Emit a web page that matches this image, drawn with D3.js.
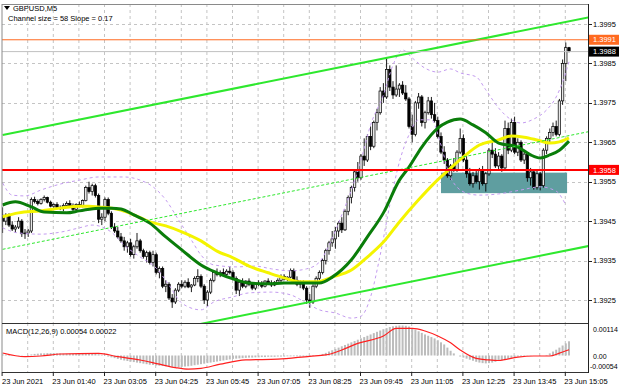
<!DOCTYPE html>
<html>
<head>
<meta charset="utf-8">
<script src="https://cdn.jsdelivr.net/npm/d3@7"></script>
<style>
  body { margin: 0; background: #fff; }
  svg { display: block; font-family: "Liberation Sans", Arial, sans-serif; }
</style>
</head>
<body>
<svg id="chart" width="620" height="388"></svg>
<script>
// candle values are in pips above 1.39000, one row per 5-minute bar: [open, high, low, close]
const BASE = 1.39;
const candles = [
  [46.5,48.5,42,45],[45,47,44,46.5],[46.5,47,43.5,44],[44,45,42.5,43],[43,44,42,43.5],
  [43.5,46,43,45],[45,45.5,41,41.8],[41.8,43,40.5,42],[42,43,41,42.5],[42.5,51,42,50.5],
  [50.5,51.2,49.5,50],[50,50.5,49,49.5],[49.5,50.8,49.2,50.5],[50.5,51.5,50,51],[51,51.2,49.5,49.8],
  [49.8,50.2,48.5,48.8],[48.8,49.5,48,49.2],[49.2,49.8,48.3,48.5],[48.5,49,47.8,48.3],[48.3,49.5,47.5,49],
  [49,50,48.5,49.5],[49.5,50.3,48.8,49],[49,49.5,47.5,48],[48,49.5,47.8,49.2],[49.2,50,48.5,48.8],
  [48.8,50.5,48.5,50.2],[50.2,54,50,53.5],[53.5,55,52,52.5],[52.5,54.5,51.5,54],[54,54.5,51,51.5],
  [51.5,52,44.5,45.5],[45.5,47,44,46],[46,51,45,50.5],[50.5,51,46.5,47],[47,47.5,43,43.5],
  [43.5,44.5,42,42.5],[42.5,43.5,40.5,41],[41,42,39.5,40],[40,41,37.5,38.5],[38.5,40,37,39.5],
  [39.5,40.5,36,36.5],[36.5,39,35.5,38.5],[38.5,42,38,40],[40,40.5,37,37.5],[37.5,38,35.5,36],
  [36,37.5,34.5,37],[37,37.5,34,34.5],[34.5,37.5,33.5,36.5],[36.5,37,31.5,32],[32,33.5,30.5,33],
  [33,33.5,28,28.5],[28.5,30,27,29],[29,29.5,25,25.5],[25.5,26.5,23,24.5],[24.5,28,24,27.5],
  [27.5,29.5,27,29],[29,30,28,28.5],[28.5,30,28,29.5],[29.5,30.5,28,28.3],[28.3,29,27,28.8],
  [28.8,31,28.5,30.5],[30.5,32.8,29.5,31],[31,31.5,28,28.5],[28.5,29,24,25],[25,27.5,23.5,27],
  [27,30.5,26.5,30],[30,32.5,29.5,32],[32,33,31,31.5],[31.5,32.5,30.8,32],[32,33,31,31.5],
  [31.5,32.8,31,32.3],[32.3,33.5,31.5,32],[32,32.5,30,30.5],[30.5,31,26.5,27.5],[27.5,30,26,29.5],
  [29.5,30.5,28,28.5],[28.5,30,28,29.8],[29.8,30.5,28.5,29],[29,29.5,27.5,28],[28,29.5,27.5,29.2],
  [29.2,30,28.5,29],[29,29.8,28,28.5],[28.5,30,28.2,29.8],[29.8,30.5,29,29.3],[29.3,30,28.3,28.8],
  [28.8,29.8,28.5,29.5],[29.5,30.5,29,30],[30,31.5,29.5,31],[31,31.5,30,30.3],[30.3,31,29.8,30.8],
  [30.8,33,30.5,32.5],[32.5,33,29.5,30],[30,31,28.5,29],[29,30,28,29.5],[29.5,30,27.5,28],
  [28,28.5,24,25],[25,26.5,23,24.5],[24.5,29,24,28.5],[28.5,31,28,30.5],[30.5,32.5,30,32],
  [32,35.5,31.5,35],[35,38,34,37.5],[37.5,40,36.5,39.5],[39.5,42.5,38.5,40.5],[40.5,43.5,38,42.5],
  [42.5,45,41,44.5],[44.5,46,42,42.8],[42.8,48,42.5,47.5],[47.5,51.5,46.5,51],[51,54,49.5,53.5],
  [53.5,58,52.5,57.5],[57.5,60,55,56],[56,62,55.5,61.5],[61.5,66,59,60.5],[60.5,67,60,66.5],
  [66.5,69,63,64],[64,70.5,63.5,70],[70,73.5,68,72.5],[72.5,79,72,78],[78,80,75,76.5],
  [76.5,86.5,76,83.5],[83.5,84.5,78,79],[79,80.5,76,77],[77,84.5,76.5,78.5],[78.5,80,76.5,79.5],
  [79.5,80.5,77,77.5],[77.5,79.5,75.5,76],[76,76.5,68.5,69],[69,72,65,67],[67,75.5,66.5,75],
  [75,77.5,73.5,76.5],[76.5,77,69,70],[70,73,68.5,72.5],[72.5,76.5,72,75.5],[75.5,76.5,71,72],
  [72,75,70,70.5],[70.5,71.5,66,66.5],[66.5,67.5,62,62.5],[62.5,64,59.5,60.5],[60.5,61,56,56.5],
  [56.5,59.5,55.5,59],[59,61,57.5,58],[58,63,57.5,62.5],[62.5,68.5,62,66],[66,67,60,60.5],
  [60.5,61.5,56,57],[57,58.5,54,54.5],[54.5,57.5,53.5,56.5],[56.5,58,54.5,55],[55,58.5,53,58],
  [58,59,54,54.5],[54.5,57.5,52.5,57],[57,63.5,56.5,63],[63,65.5,61,62],[62,63.5,58.5,59],
  [59,62.5,58,61.5],[61.5,62,57.5,58.5],[58.5,70.5,58,68.5],[68.5,70,62,63],[63,71,62.5,70],
  [70,71.5,62,62.5],[62.5,66,61.5,65],[65,65.5,60,60.5],[60.5,63,59.5,62],[62,62.5,55,56],
  [56,58.5,54,57.5],[57.5,58,53,53.5],[53.5,58,53,57],[57,57.5,52.8,54],[54,63.5,53.5,63],
  [63,66.5,62,66],[66,68.5,65,67.5],[67.5,70,66.5,69],[69,70.5,66.5,67],[67,76,66.5,75.5],
  [75.5,86,74.5,85],[85,90.3,80.5,89],[89,89.2,87.8,88]
];

// indicator readings: [bar index, pips above 1.39000]
const maYellow = [[0,46.1],[5,47.1],[12,47.6],[18,48.3],[24,48.8],[27,48.8],[30,48.6],[37,47.8],[41,46.6],
  [46,44.8],[51,43.8],[56,42.3],[62,40],[67,37.4],[72,35.7],[77,33.6],[83,31.9],[88,30.6],[93,29.6],
  [98,29.6],[103,30.8],[109,32.6],[114,35.9],[119,39.7],[124,44.8],[130,50.4],[135,54.7],[139,57.7],
  [144,61.3],[149,64.3],[155,65.6],[159,66.6],[163,66.3],[167,65.6],[171,64.8],[174,65.1],[177,66.1]];
const maGreen = [[0,49.1],[4,49.9],[9,48.6],[13,47.3],[20,47.1],[24,47.6],[30,48.3],[34,48.3],[37,48.1],
  [41,46.6],[46,44.5],[51,41],[56,37.7],[62,33.9],[67,31.9],[73,30.1],[77,29.3],[83,29.1],[88,29.3],
  [93,29.3],[99,29.3],[103,30.8],[109,35.2],[114,41],[119,47.1],[124,55.4],[127,58.7],[131,63.8],
  [136,68.6],[139,70.1],[143,70.9],[147,69.4],[151,67.4],[155,64.8],[161,63.8],[165,61.8],[168,61],
  [171,61.8],[174,63],[177,65.3]];
const bandUpper = [[0,54.7],[3,51.6],[7,51.4],[12,52.9],[18,54.4],[24,55.4],[30,56.2],[38,56.2],[43,55.4],
  [47,53.7],[51,50.4],[55,45.3],[59,40.2],[62,36.4],[66,33.9],[73,33.4],[79,33.6],[84,32.9],[90,32.4],
  [95,32.9],[99,34.6],[102,38.9],[106,46.6],[109,52.9],[112,60.5],[115,69.4],[119,77],[122,84.6],
  [125,88.4],[128,86.4],[132,83.8],[136,82.8],[140,83.6],[143,82.6],[148,81.6],[151,78.3],[155,73.7],
  [159,70.7],[162,69.9],[166,70.9],[170,73.2],[173,76.5],[175,80.3],[177,85.4]];
const bandLower = [[0,43.3],[5,42],[12,41.7],[18,42.2],[24,43.3],[28,44],[34,42.2],[38,38.9],[43,35.9],
  [48,33.1],[52,28.8],[56,24.2],[62,22.5],[66,24.5],[72,25.8],[77,26.8],[84,27],[90,26.3],[95,24.2],
  [99,22.5],[104,21.7],[109,20.4],[112,20.9],[115,25.8],[118,36.4],[121,49.1],[124,60],[127,66.9],
  [130,70.7],[134,70.7],[137,64.3],[140,56],[145,52.1],[149,51.6],[155,51.9],[162,52.9],[168,53.7],
  [173,52.6],[176,49.1]];

// MACD(12,26,9), values in units of 0.00001
const macdHist = [4,3,2,1,0,-1,-1,0,2,4,
  6,7,8,8,9,9,9,8,8,7,7,7,6,6,6,6,7,8,8,7,5,
  2,-1,-4,-7,-10,-13,-16,
  -19,-21,-23,-25,-27,-29,-31,-33,-35,-36,-38,-39,-40,-41,-42,-43,-44,-44,-43,-42,-41,
  -39,-37,-35,-33,-31,-29,-27,-25,-23,-21,-19,-17,-15,-13,-12,-11,-10,
  -9,-8,-8,-7,-7,-6,-6,-5,-5,-5,-4,-4,-4,-3,-3,-3,-3,-4,-4,-4,-3,-2,-1,
  2,6,10,15,20,25,30,35,40,45,50,55,60,65,70,75,80,85,90,95,100,104,108,111,113,114,
  114,113,110,104,98,92,86,80,75,70,65,58,50,42,30,18,
  8,0,-4,-8,-12,-16,-20,-24,-27,-29,-30,-29,-27,-24,-21,-18,-15,-12,-9,-6,
  -4,-3,-2,-1,-1,0,0,-1,0,2,
  8,15,22,30,38,46,54];
const macdSignal = [[0,9.5],[7,-4.6],[12,-2],[18,5.7],[30,8.4],[36,-4.6],[43,-17],[49,-33],[54,-46],
  [58,-52],[62,-49],[68,-33],[76,-17],[86,-14],[96,-3],[101,2],[106,21],[111,46],[119,74],[123,103],
  [128,103],[132,93],[136,74],[140,48],[143,21],[148,-11],[152,-17],[155,-19],[161,-6],[166,-2],
  [171,-2],[174,9],[177,22]];

// trend channel: bars of the two anchors, upper line in pips, channel size in pips
const channelBars = [0, 183];
const channelUpper = [66.85, 96.67];
const channelSize = 58;

const levels = [1.3991, 1.3988, 1.3958];
const zoneBars = [137, 176.4];
const zonePrices = [1.39521, 1.39573];

const priceTicks = [1.3925, 1.3935, 1.3945, 1.3955, 1.3965, 1.3975, 1.3985, 1.3995];
const macdTicks = [0.00114, 0, -0.00054];
const timeLabelBars = [0, 16, 32, 48, 64, 80, 96, 112, 128, 144, 160, 176];
const timeLabels = ["23 Jun 2021", "23 Jun 01:40", "23 Jun 03:05", "23 Jun 04:25", "23 Jun 05:45",
  "23 Jun 07:05", "23 Jun 08:25", "23 Jun 09:45", "23 Jun 11:05", "23 Jun 12:25", "23 Jun 13:45", "23 Jun 15:05"];

const svg = d3.select("#chart");
const pL = 2, pR = 588, pT = 4, pS = 323, pB = 372;
const px = v => BASE + v / 10000;

const x = d3.scaleLinear().domain([0, candles.length - 1]).range([2.6, 569]);
const y = d3.scaleLinear().domain([1.3925, 1.3995]).range([300, 24]);
const ym = d3.scaleLinear().domain([-0.00054, 0.00114]).range([369.7, 325.5]);

const defs = svg.append("defs");
defs.append("clipPath").attr("id", "clipMain")
  .append("rect").attr("x", pL).attr("y", pT).attr("width", pR - pL).attr("height", pS - pT);
defs.append("clipPath").attr("id", "clipSub")
  .append("rect").attr("x", pL).attr("y", pS).attr("width", pR - pL).attr("height", pB - pS);

const main = svg.append("g").attr("clip-path", "url(#clipMain)");
const sub = svg.append("g").attr("clip-path", "url(#clipSub)");

// grid
const gridBars = d3.range(8, candles.length, 8);
[main, sub].forEach((g, k) => {
  g.selectAll(".vgrid").data(gridBars).enter().append("line")
    .attr("x1", d => x(d) - 0.5).attr("x2", d => x(d) - 0.5)
    .attr("y1", k ? pS : pT).attr("y2", k ? pB : pS)
    .attr("stroke", "#c4c4c4").attr("stroke-dasharray", "3,3");
});
main.selectAll(".hgrid").data(priceTicks).enter().append("line")
  .attr("x1", pL).attr("x2", pR)
  .attr("y1", d => Math.round(y(d)) + 0.5).attr("y2", d => Math.round(y(d)) + 0.5)
  .attr("stroke", "#c4c4c4").attr("stroke-dasharray", "3,3");

// support zone
main.append("rect")
  .attr("x", x(zoneBars[0])).attr("width", x(zoneBars[1]) - x(zoneBars[0]))
  .attr("y", y(zonePrices[1])).attr("height", y(zonePrices[0]) - y(zonePrices[1]))
  .attr("fill", "#5f9ea0");

// candles
const cg = main.append("g");
cg.selectAll(".wick").data(candles).enter().append("line")
  .attr("x1", (d, i) => x(i)).attr("x2", (d, i) => x(i))
  .attr("y1", d => y(px(d[1]))).attr("y2", d => y(px(d[2])))
  .attr("stroke", "#000").attr("stroke-width", 0.9);
cg.selectAll(".body").data(candles).enter().append("rect")
  .attr("x", (d, i) => x(i) - 1.2).attr("width", 2.4)
  .attr("y", d => y(px(Math.max(d[0], d[3]))))
  .attr("height", d => Math.max(0.8, Math.abs(y(px(d[0])) - y(px(d[3])))))
  .attr("fill", d => d[3] >= d[0] ? "#e8e8e8" : "#000")
  .attr("stroke", "#000").attr("stroke-width", 0.7);

// bands and moving averages
const priceLine = d3.line().x(d => x(d[0])).y(d => y(px(d[1]))).curve(d3.curveMonotoneX);
[bandUpper, bandLower].forEach(b => {
  main.append("path").attr("d", priceLine(b)).attr("fill", "none")
    .attr("stroke", "#c49cf0").attr("stroke-width", 1).attr("stroke-dasharray", "3,3");
});
main.append("path").attr("d", priceLine(maYellow)).attr("fill", "none")
  .attr("stroke", "#f4f400").attr("stroke-width", 3);
main.append("path").attr("d", priceLine(maGreen)).attr("fill", "none")
  .attr("stroke", "#0a7d0a").attr("stroke-width", 3);

// trend channel
const chan = off => channelBars.map((b, i) => [b, channelUpper[i] - off]);
const straight = d3.line().x(d => x(d[0])).y(d => y(px(d[1])));
main.append("path").attr("d", straight(chan(0))).attr("stroke", "#2ee82e").attr("stroke-width", 2);
main.append("path").attr("d", straight(chan(channelSize))).attr("stroke", "#2ee82e").attr("stroke-width", 2);
main.append("path").attr("d", straight(chan(channelSize / 2))).attr("stroke", "#2ee82e")
  .attr("stroke-width", 1).attr("stroke-dasharray", "3,2");

// horizontal levels
const levelColors = ["#ff6a20", "#c0c0c0", "#ff0000"];
const levelWidths = [1, 1, 2];
levels.forEach((p, i) => {
  main.append("line").attr("x1", pL).attr("x2", pR)
    .attr("y1", y(p)).attr("y2", y(p))
    .attr("stroke", levelColors[i]).attr("stroke-width", levelWidths[i]);
});

// MACD panel
sub.selectAll(".hist").data(macdHist).enter().append("rect")
  .attr("x", (d, i) => x(i) - 1).attr("width", 2)
  .attr("y", d => Math.min(ym(d / 1e5), ym(0)))
  .attr("height", d => Math.abs(ym(d / 1e5) - ym(0)))
  .attr("fill", "#bcbcbc");
const sigLine = d3.line().x(d => x(d[0])).y(d => ym(d[1] / 1e5)).curve(d3.curveMonotoneX);
sub.append("path").attr("d", sigLine(macdSignal)).attr("fill", "none")
  .attr("stroke", "#ff2020").attr("stroke-width", 1.2);

// frame
svg.append("line").attr("x1", pL).attr("x2", pL).attr("y1", pT).attr("y2", pB).attr("stroke", "#8a8a8a");
svg.append("line").attr("x1", pL).attr("x2", pR).attr("y1", pT + 0.5).attr("y2", pT + 0.5).attr("stroke", "#8a8a8a");
svg.append("line").attr("x1", pR + 0.5).attr("x2", pR + 0.5).attr("y1", pT).attr("y2", pB + 1).attr("stroke", "#222");
svg.append("line").attr("x1", pL).attr("x2", pR).attr("y1", pS + 0.5).attr("y2", pS + 0.5).attr("stroke", "#333");
svg.append("line").attr("x1", pL).attr("x2", pR).attr("y1", pB + 0.5).attr("y2", pB + 0.5).attr("stroke", "#333");

// price axis
const axisText = (sel) => sel.attr("font-size", "7.5px").attr("fill", "#000");
priceTicks.forEach(p => {
  svg.append("line").attr("x1", pR).attr("x2", pR + 4).attr("y1", Math.round(y(p)) + 0.5)
    .attr("y2", Math.round(y(p)) + 0.5).attr("stroke", "#222");
  svg.append("text").attr("x", 593).attr("y", y(p)).attr("dy", "0.35em").text(p.toFixed(4)).call(axisText);
});
const boxColors = ["#ff6a20", "#000", "#ff0000"];
levels.forEach((p, i) => {
  svg.append("rect").attr("x", pR + 1).attr("y", y(p) - 5).attr("width", 30).attr("height", 10)
    .attr("fill", boxColors[i]);
  svg.append("text").attr("x", 593).attr("y", y(p)).attr("dy", "0.35em").text(p.toFixed(4))
    .call(axisText).attr("fill", "#fff");
});

// MACD axis
const macdDy = [4, 1, -3];
macdTicks.forEach((v, i) => {
  svg.append("text").attr("x", v < 0 ? 590 : 593).attr("y", ym(v) + macdDy[i]).attr("dy", "0.35em")
    .text(v === 0 ? "0.00" : v.toFixed(5)).call(axisText).attr("font-size", "7px");
});

// time axis
timeLabelBars.forEach((b, i) => {
  svg.append("line").attr("x1", x(b) - 0.5).attr("x2", x(b) - 0.5).attr("y1", pB).attr("y2", pB + 4)
    .attr("stroke", "#222");
  svg.append("text").attr("x", Math.max(2, x(b) - 1.5)).attr("y", 384).text(timeLabels[i]).call(axisText);
});

// captions
svg.append("path").attr("d", "M4,6 L10,6 L7,10 Z").attr("fill", "#000");
svg.append("text").attr("x", 13).attr("y", 11).text("GBPUSD,M5").call(axisText);
svg.append("text").attr("x", 8).attr("y", 21).text("Channel size = 58 Slope = 0.17").call(axisText);
svg.append("text").attr("x", 6).attr("y", 334)
  .text(`MACD(12,26,9) ${(macdHist[macdHist.length - 1] / 1e5).toFixed(5)} ${(macdSignal[macdSignal.length - 1][1] / 1e5).toFixed(5)}`)
  .call(axisText);
</script>
</body>
</html>
